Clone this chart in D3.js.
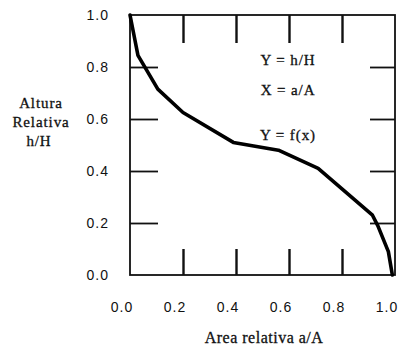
<!DOCTYPE html>
<html>
<head>
<meta charset="utf-8">
<script src="https://cdn.jsdelivr.net/npm/d3@7"></script>
<style>
  body { margin: 0; background: #fff; }
  .lbl { font-family: "Liberation Serif", serif; font-size: 15px; fill: #111; letter-spacing: 0.9px; stroke: #111; stroke-width: 0.3px; }
  .num { font-family: "Liberation Sans", sans-serif; font-size: 14px; fill: #111; letter-spacing: 1px; }
  .tk line { stroke: #111; }
</style>
</head>
<body>
<script>
// curve
var areaRel = [0, 0.03, 0.105, 0.2, 0.39, 0.56, 0.71, 0.915, 0.935, 0.975, 0.99];
var alturaRel = [1.0, 0.845, 0.715, 0.625, 0.51, 0.48, 0.41, 0.23, 0.19, 0.09, 0.0];
var ticks = [0.2, 0.4, 0.6, 0.8];
var tickLabels = [0, 0.2, 0.4, 0.6, 0.8, 1.0];

var w = 398, h = 353;

var svg = d3.select("body").append("svg")
    .attr("width", w)
    .attr("height", h);

var x = d3.scaleLinear().domain([0, 1]).range([130, 395]);
var y = d3.scaleLinear().domain([0, 1]).range([275, 15]);

// frame
svg.append("rect")
    .attr("x", x(0))
    .attr("y", y(1))
    .attr("width", x(1) - x(0))
    .attr("height", y(0) - y(1))
    .style("fill", "none")
    .style("stroke", "#111")
    .style("stroke-width", 1.8);

// inward ticks on all four sides
function tickAxis(axis, size, tx, ty, sw) {
    var g = svg.append("g")
        .attr("class", "tk")
        .attr("transform", "translate(" + tx + "," + ty + ")")
        .call(axis.tickValues(ticks).tickSize(size).tickFormat(""));
    g.select(".domain").remove();
    g.selectAll("line").style("stroke-width", sw);
}
tickAxis(d3.axisBottom(x), -26, 0, y(0), 2.4);
tickAxis(d3.axisTop(x), -28, 0, y(1), 2.4);
tickAxis(d3.axisLeft(y), -28, x(0), 0, 1.8);
tickAxis(d3.axisRight(y), -25, x(1), 0, 1.8);

// tick labels
svg.selectAll(".ylab")
    .data(tickLabels)
    .enter()
    .append("text")
    .attr("class", "num")
    .attr("text-anchor", "end")
    .attr("x", x(0) - 21)
    .attr("y", function(d){ return y(d); })
    .attr("dy", "0.36em")
    .text(function(d){ return d3.format(".1f")(d); });

svg.selectAll(".xlab")
    .data(tickLabels)
    .enter()
    .append("text")
    .attr("class", "num")
    .attr("text-anchor", "middle")
    .attr("x", function(d){ return x(d) - 8; })
    .attr("y", 312)
    .text(function(d){ return d3.format(".1f")(d); });

// curve
var line = d3.line()
    .x(function(d){ return x(d); })
    .y(function(d, i){ return y(alturaRel[i]); });

svg.append("path")
    .datum(areaRel)
    .attr("d", line)
    .style("fill", "none")
    .style("stroke", "#000")
    .style("stroke-width", 3.6)
    .style("stroke-linejoin", "round")
    .style("stroke-linecap", "round");

// axis titles
var yTitle = svg.append("text")
    .attr("class", "lbl")
    .attr("text-anchor", "middle");
yTitle.append("tspan").attr("x", 41).attr("y", 108).text("Altura");
yTitle.append("tspan").attr("x", 41).attr("y", 127).text("Relativa");
yTitle.append("tspan").attr("x", 39).attr("y", 146).text("h/H");

svg.append("text")
    .attr("class", "lbl")
    .attr("x", 264)
    .attr("y", 343)
    .attr("text-anchor", "middle")
    .style("font-size", "16px")
    .style("letter-spacing", "0.5px")
    .text("Area relativa a/A");

// notes inside the plot
var notes = ["Y = h/H", "X = a/A", "Y = f(x)"];
var noteY = [65, 95, 140];
svg.selectAll(".note")
    .data(notes)
    .enter()
    .append("text")
    .attr("class", "lbl")
    .attr("x", 288)
    .attr("y", function(d, i){ return noteY[i]; })
    .attr("text-anchor", "middle")
    .text(function(d){ return d; });
</script>
</body>
</html>
